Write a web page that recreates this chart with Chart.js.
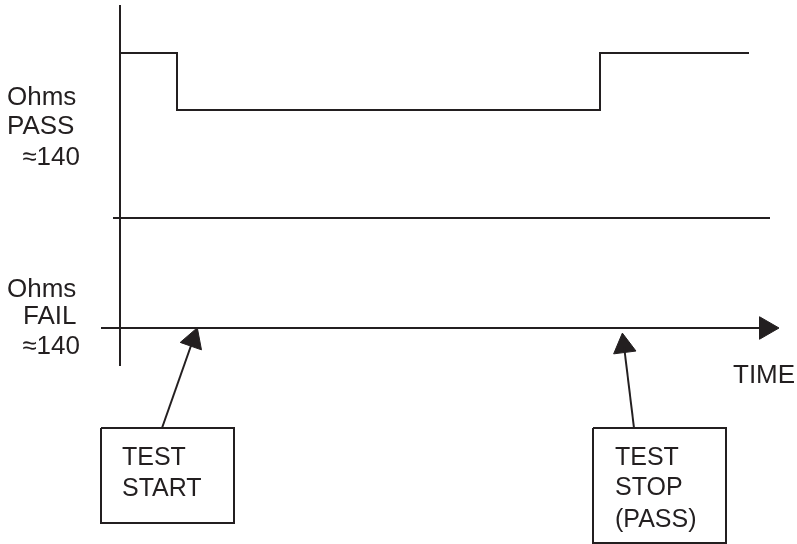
<!DOCTYPE html>
<html>
<head>
<meta charset="utf-8">
<script src="https://cdn.jsdelivr.net/npm/chart.js@4/dist/chart.umd.min.js"></script>
<style>
  html, body { margin: 0; padding: 0; background: #fff; }
  canvas { display: block; }
</style>
</head>
<body>
<canvas id="timingChart" width="797" height="544"></canvas>
<script>
// Time axis runs from the vertical axis (t = 0); levels are measured up from the time axis
const signalTimes = [0, 57, 480, 629];
const signalLevels = [275, 218, 275, 275];

const thresholdTimes = [-7, 650];
const thresholdLevel = 110;

const timeAxisTimes = [-19, 646];
const levelAxisLevels = [323, -38];

// callout arrows: box edge -> tip on the time axis
const startArrowTimes = [42, 73];
const startArrowLevels = [-100, -12];
const stopArrowTimes = [514, 504];
const stopArrowLevels = [-100, -18];

// callout boxes: [left, right] and [top, bottom]
const startBoxTimes = [-19, 114];
const startBoxLevels = [-100, -195];
const stopBoxTimes = [473, 606];
const stopBoxLevels = [-100, -215];

const passLabels = ['Ohms', 'PASS', '\u2248140'];
const failLabels = ['Ohms', 'FAIL', '\u2248140'];
const startLabels = ['TEST', 'START'];
const stopLabels = ['TEST', 'STOP', '(PASS)'];
const timeLabel = 'TIME';

const INK = '#231f20';

function pts(xs, ys) {
    return xs.map((x, i) => ({ x: x, y: Array.isArray(ys) ? ys[i] : ys }));
}

function box(xs, ys) {
    return [
        { x: xs[0], y: ys[0] }, { x: xs[1], y: ys[0] },
        { x: xs[1], y: ys[1] }, { x: xs[0], y: ys[1] },
        { x: xs[0], y: ys[0] }
    ];
}

function lineSet(data, extra) {
    return Object.assign({
        data: data,
        borderColor: INK,
        borderWidth: 2,
        pointRadius: 0,
        fill: false,
        tension: 0
    }, extra || {});
}

function headSet(x, y, rotation) {
    return {
        data: [{ x: x, y: y }],
        showLine: false,
        pointStyle: 'triangle',
        pointRadius: 13,
        pointRotation: rotation,
        pointBackgroundColor: INK,
        pointBorderColor: INK,
        pointBorderWidth: 1
    };
}

// text labels drawn through the scales
const labelPlugin = {
    id: 'labels',
    afterDatasetsDraw(chart) {
        const ctx = chart.ctx;
        const xs = chart.scales.x, ys = chart.scales.y;
        ctx.save();
        ctx.fillStyle = INK;
        ctx.textBaseline = 'alphabetic';

        // place = [[t, align], ...] one per line
        function block(lines, place, v, gaps, size) {
            ctx.font = size + 'px "Liberation Sans", Arial, sans-serif';
            let y = ys.getPixelForValue(v);
            lines.forEach((s, i) => {
                const p = place[i] || place[place.length - 1];
                ctx.textAlign = p[1];
                ctx.fillText(s, xs.getPixelForValue(p[0]), y);
                y += gaps[i] || 0;
            });
        }

        const left = [-113, 'left'], right = [-40, 'right'];
        block(passLabels, [left, left, right], 223, [29, 31], 26);
        block(failLabels, [left, [-97, 'left'], right], 31, [27, 30], 26);
        block(startLabels, [[2, 'left']], -137, [31], 25);
        block(stopLabels, [[495, 'left']], -137, [30, 32], 25);
        block([timeLabel], [[613, 'left']], -55, [], 26);
        ctx.restore();
    }
};

new Chart(document.getElementById('timingChart'), {
    type: 'line',
    data: {
        datasets: [
            lineSet(pts(signalTimes, signalLevels), { stepped: true }),
            lineSet(pts(thresholdTimes, thresholdLevel)),
            lineSet(pts(timeAxisTimes, 0)),
            lineSet(pts([0, 0], levelAxisLevels)),
            lineSet(pts(startArrowTimes, startArrowLevels)),
            lineSet(pts(stopArrowTimes, stopArrowLevels)),
            lineSet(box(startBoxTimes, startBoxLevels)),
            lineSet(box(stopBoxTimes, stopBoxLevels)),
            headSet(646, 0, 90),
            headSet(73, -12, 19.3),
            headSet(504, -18, -7.2)
        ]
    },
    options: {
        responsive: false,
        animation: false,
        devicePixelRatio: 1,
        layout: { padding: 0, autoPadding: false },
        scales: {
            x: { type: 'linear', display: false, min: -120, max: 677 },
            y: { type: 'linear', display: false, min: -216, max: 328 }
        },
        plugins: {
            legend: { display: false },
            tooltip: { enabled: false }
        }
    },
    plugins: [labelPlugin]
});
</script>
</body>
</html>
